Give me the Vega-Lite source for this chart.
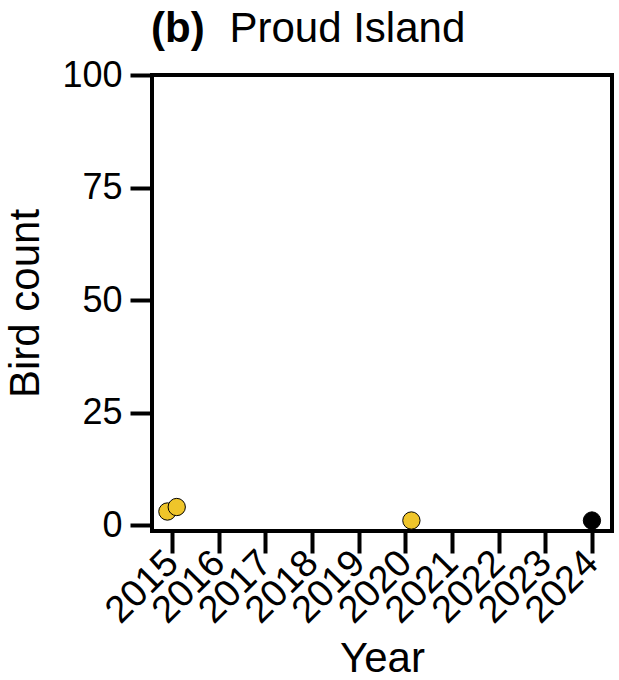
{
  "$schema": "https://vega.github.io/schema/vega-lite/v6.json",
  "autosize": "none",
  "width": 460,
  "height": 456,
  "padding": {"left": 152, "top": 75, "right": 7, "bottom": 149},
  "background": "white",
  "config": {
    "font": "Liberation Sans",
    "view": {"stroke": "black", "strokeWidth": 4},
    "axis": {"domain": false, "grid": false, "tickColor": "black", "tickWidth": 4, "labelColor": "black", "titleColor": "black", "titleFontWeight": "normal", "labelFont": "Liberation Sans", "titleFont": "Liberation Sans"}
  },
  "title": {
    "text": "(b)",
    "subtitle": "\u200b\u00a0\u00a0\u00a0\u00a0\u00a0\u00a0\u2009Proud Island",
    "anchor": "start",
    "frame": "group",
    "fontSize": 42,
    "fontWeight": "bold",
    "subtitleFontSize": 42,
    "subtitleFont": "Liberation Sans",
    "subtitleFontWeight": "normal",
    "subtitleColor": "black",
    "subtitlePadding": -42,
    "color": "black",
    "offset": 6,
    "dx": -1
  },
  "data": {
    "values": [
      {"year": 2014.9, "count": 3, "group": "survey"},
      {"year": 2015.1, "count": 4, "group": "survey"},
      {"year": 2020.13, "count": 1, "group": "survey"},
      {"year": 2024.0, "count": 1, "group": "recent"}
    ]
  },
  "mark": {"type": "point", "filled": true, "shape": "circle", "size": 300, "stroke": "black", "strokeWidth": 1, "opacity": 1},
  "encoding": {
    "x": {
      "field": "year",
      "type": "quantitative",
      "scale": {"domain": [2014.57, 2024.43], "nice": false, "zero": false},
      "axis": {
        "title": "Year",
        "titleFontSize": 42,
        "titlePadding": 8,
        "values": [2015, 2016, 2017, 2018, 2019, 2020, 2021, 2022, 2023, 2024],
        "format": "d",
        "labelAngle": -45,
        "labelAlign": "right",
        "labelBaseline": "middle",
        "labelFontSize": 38,
        "labelPadding": 4,
        "tickSize": 22,
        "labelOverlap": false,
        "labelBound": false,
        "labelFlush": false
      }
    },
    "y": {
      "field": "count",
      "type": "quantitative",
      "scale": {"domain": [-1.33, 100], "nice": false, "zero": false},
      "axis": {
        "title": "Bird count",
        "titleFontSize": 42,
        "titlePadding": 14,
        "values": [0, 25, 50, 75, 100],
        "labelFontSize": 36,
        "labelPadding": 8,
        "tickSize": 22,
        "labelOverlap": false,
        "labelFlush": false,
        "labelBound": false
      }
    },
    "fill": {
      "field": "group",
      "type": "nominal",
      "scale": {"domain": ["survey", "recent"], "range": ["#EFC52A", "#000000"]},
      "legend": null
    }
  }
}
